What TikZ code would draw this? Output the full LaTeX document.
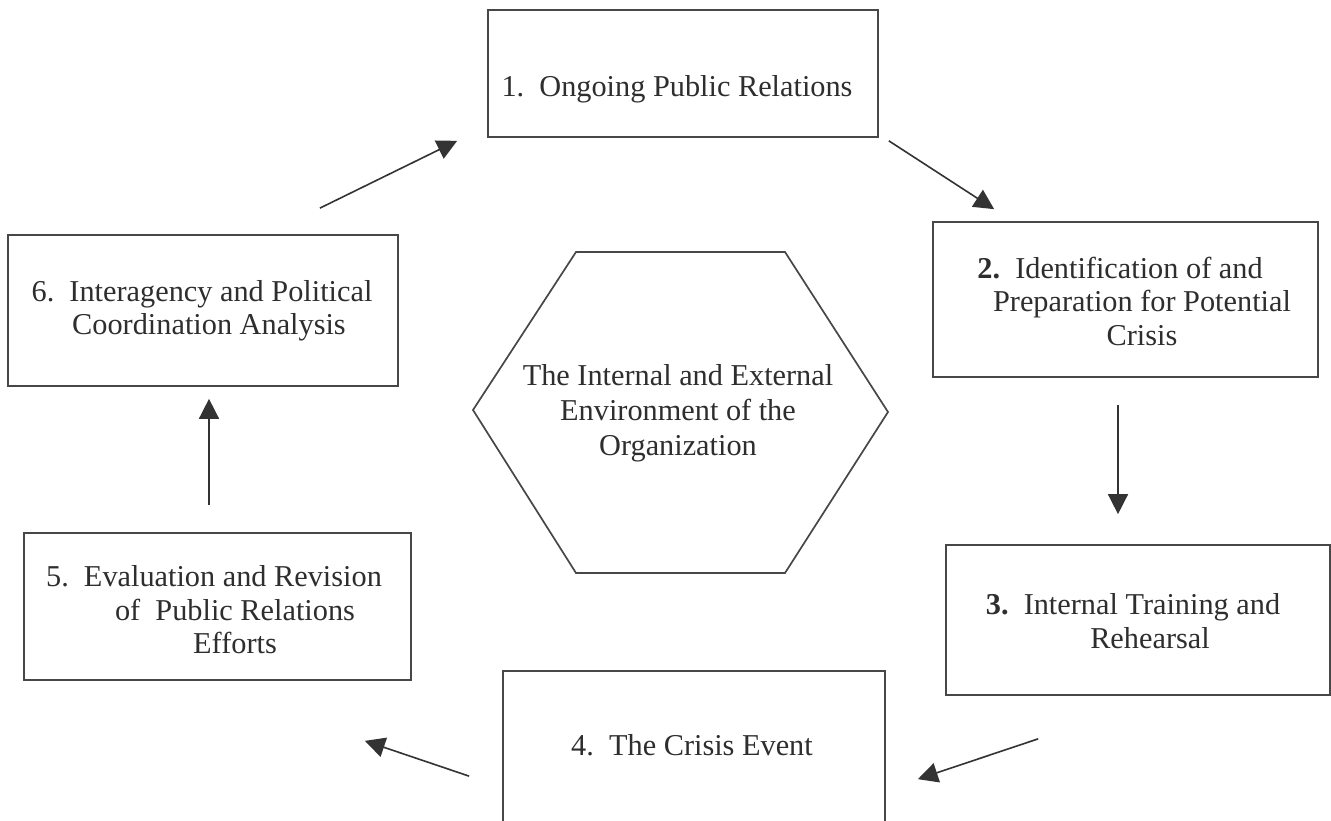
\documentclass[tikz,border=0pt]{standalone}
\usepackage{fontspec}
\setmainfont{Liberation Serif}
\usetikzlibrary{arrows.meta}
\begin{document}
\begin{tikzpicture}[x=1pt,y=-1pt,
  boxnode/.style={draw=black!72, line width=1.7pt, inner sep=0pt},
  lbl/.style={align=center, text=black!82, inner sep=0pt, font=\fontsize{30.3}{33.5}\selectfont},
  arr/.style={draw=black!80, line width=1.6pt, -{Triangle[length=20pt,width=20pt]}}
]
\clip (0,0) rectangle (1331,821);
\useasboundingbox (0,0) rectangle (1331,821);
\fill[white] (0,0) rectangle (1331,821);

% boxes
\node[boxnode, minimum width=390pt, minimum height=127pt] (b1) at (683,73.5) {};
\node[boxnode, minimum width=385pt, minimum height=155pt] (b2) at (1125.5,299.5) {};
\node[boxnode, minimum width=384pt, minimum height=150pt] (b3) at (1138,620) {};
\node[boxnode, minimum width=382pt, minimum height=200pt] (b4) at (694,771) {};
\node[boxnode, minimum width=387pt, minimum height=147pt] (b5) at (217.5,606.5) {};
\node[boxnode, minimum width=390pt, minimum height=151pt] (b6) at (203,310.5) {};

% hexagon
\coordinate (h1) at (576,252);
\coordinate (h2) at (785,252);
\coordinate (h3) at (888,412);
\coordinate (h4) at (785,573);
\coordinate (h5) at (576,573);
\coordinate (h6) at (473,410);
\draw[draw=black!72, line width=1.7pt, line join=miter] (h1) -- (h2) -- (h3) -- (h4) -- (h5) -- (h6) -- cycle;

% labels
\node[lbl] (t1) at (677,89) {1.~~Ongoing Public Relations};
\node[lbl] (t2) at (1142,301) {\textbf{2.}~~Identification of and\hspace*{44pt}\\Preparation for Potential\\Crisis};
\node[lbl] (t3) at (1150,621) {\textbf{3.}~~Internal Training and\hspace*{34pt}\\Rehearsal};
\node[lbl] (t4) at (692,745) {4.~~The Crisis Event};
\node[lbl] (t5) at (235,610) {5.~~Evaluation and Revision\hspace*{42pt}\\of~~Public Relations\\Efforts};
\node[lbl] (t6) at (209,311) {6.~~Interagency and Political\hspace*{14pt}\\Coordination Analysis};
\node[lbl, font=\fontsize{30.3}{35}\selectfont] (th) at (678,413) {The Internal and External\\Environment of the\\Organization};

% arrows
\draw[arr] ([shift={(10,3)}]b1.south east) -- ([shift={(62,-12)}]b2.north west);
\draw[arr] ([shift={(-7.5,27)}]b2.south) -- ([shift={(-20,-30)}]b3.north);
\draw[arr] ([shift={(93,43)}]b3.south west) -- ([shift={(32,109)}]b4.north east);
\draw[arr] ([shift={(-33,106)}]b4.north west) -- ([shift={(-47,60)}]b5.south east);
\draw[arr] ([shift={(-8.5,-27)}]b5.north) -- ([shift={(6,12)}]b6.south);
\draw[arr] ([shift={(-79,-26)}]b6.north east) -- ([shift={(-30,3)}]b1.south west);
\end{tikzpicture}
\end{document}
